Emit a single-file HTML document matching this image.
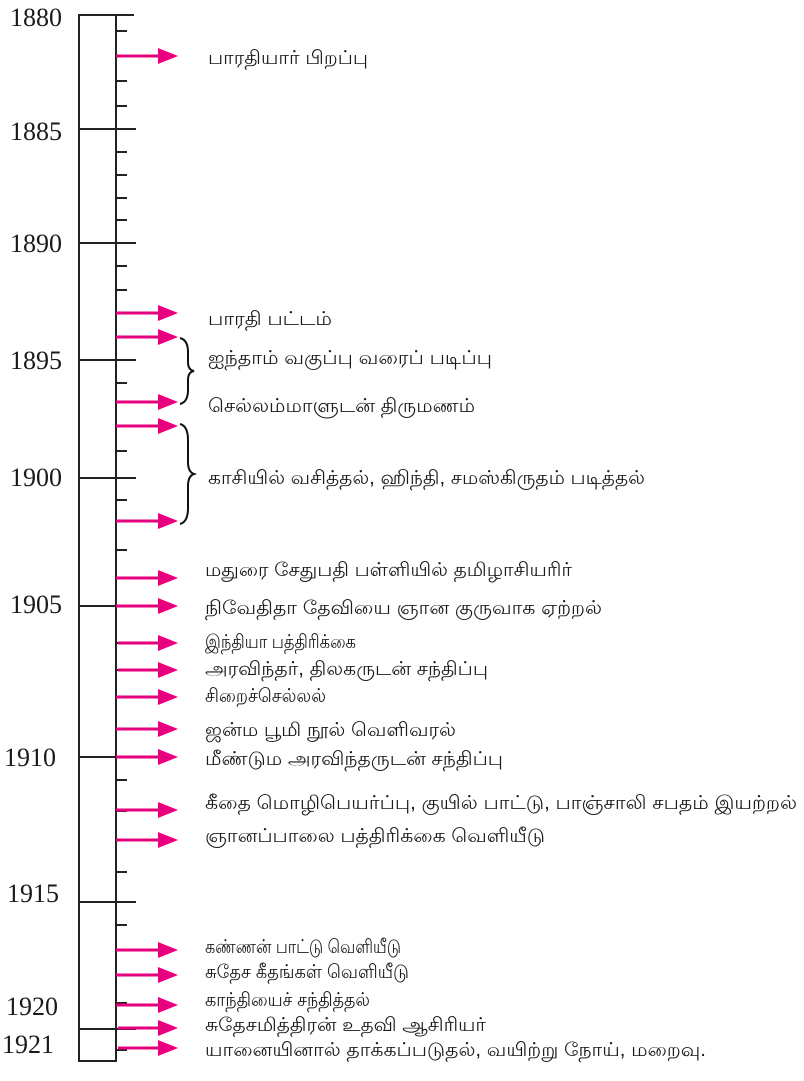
<!DOCTYPE html>
<html><head><meta charset="utf-8"><style>
html,body{margin:0;padding:0;background:#fff;}
svg{display:block;}
.y{font-family:"Liberation Serif",serif;font-size:26px;fill:#1a1a1a;}
.t{font-family:"Liberation Sans",sans-serif;font-size:19px;fill:#1a1a1a;}
</style></head><body>
<svg width="804" height="1081" viewBox="0 0 804 1081" xmlns="http://www.w3.org/2000/svg">
<g stroke="#222" stroke-width="2" fill="none">
<rect x="79" y="15" width="37" height="1046"/>
<line x1="113" y1="15" x2="134" y2="15"/>
<line x1="79" y1="129" x2="136" y2="129"/>
<line x1="79" y1="243" x2="136" y2="243"/>
<line x1="79" y1="360" x2="136" y2="360"/>
<line x1="79" y1="478" x2="136" y2="478"/>
<line x1="79" y1="606" x2="136" y2="606"/>
<line x1="79" y1="757" x2="136" y2="757"/>
<line x1="79" y1="902" x2="136" y2="902"/>
<line x1="79" y1="1029" x2="136" y2="1029"/>
<path d="M116 31h11M116 56h11M116 81h11M116 106h11
M116 152h11M116 175h11M116 198h11M116 220h11
M116 266h11M116 290h11M116 313h11M116 337h11
M116 383h11M116 402h11M116 426h11M116 451h11
M116 500h11M116 521h11M116 550h11M116 578h11
M116 643h11M116 670h11M116 697h11M116 729h11
M116 780h11M116 811h11M116 840h11M116 872h11
M116 925h11M116 950h11M116 975h11M116 1003h11M116 1050h11"/>
</g>
<g class="y" text-anchor="end">
<text x="62" y="26">1880</text>
<text x="62" y="140">1885</text>
<text x="62" y="252">1890</text>
<text x="62" y="369">1895</text>
<text x="62" y="486">1900</text>
<text x="62" y="613">1905</text>
<text x="56" y="766">1910</text>
<text x="59" y="902">1915</text>
<text x="58" y="1015">1920</text>
<text x="54" y="1053">1921</text>
</g>
<g fill="#e6007e" stroke="#e6007e">
<g stroke-width="3">
<line x1="116" y1="56" x2="160" y2="56"/>
<line x1="116" y1="313" x2="160" y2="313"/>
<line x1="116" y1="337" x2="160" y2="337"/>
<line x1="116" y1="402" x2="160" y2="402"/>
<line x1="116" y1="426" x2="160" y2="426"/>
<line x1="116" y1="521" x2="160" y2="521"/>
<line x1="116" y1="578" x2="160" y2="578"/>
<line x1="116" y1="606" x2="160" y2="606"/>
<line x1="118" y1="643" x2="160" y2="643"/>
<line x1="118" y1="670" x2="160" y2="670"/>
<line x1="116" y1="697" x2="160" y2="697"/>
<line x1="116" y1="729" x2="160" y2="729"/>
<line x1="116" y1="757" x2="160" y2="757"/>
<line x1="116" y1="810" x2="160" y2="810"/>
<line x1="116" y1="840" x2="160" y2="840"/>
<line x1="116" y1="950" x2="160" y2="950"/>
<line x1="116" y1="975" x2="160" y2="975"/>
<line x1="116" y1="1005" x2="160" y2="1005"/>
<line x1="118" y1="1028" x2="160" y2="1028"/>
<line x1="118" y1="1048" x2="160" y2="1048"/>
</g>
<g stroke="none">
<path d="M158 48L178 56L158 64Z"/>
<path d="M158 305L178 313L158 321Z"/>
<path d="M158 329L178 337L158 345Z"/>
<path d="M158 394L178 402L158 410Z"/>
<path d="M158 418L178 426L158 434Z"/>
<path d="M158 513L178 521L158 529Z"/>
<path d="M158 570L178 578L158 586Z"/>
<path d="M158 598L178 606L158 614Z"/>
<path d="M158 635L178 643L158 651Z"/>
<path d="M158 662L178 670L158 678Z"/>
<path d="M158 689L178 697L158 705Z"/>
<path d="M158 721L178 729L158 737Z"/>
<path d="M158 749L178 757L158 765Z"/>
<path d="M158 802L178 810L158 818Z"/>
<path d="M158 832L178 840L158 848Z"/>
<path d="M158 942L178 950L158 958Z"/>
<path d="M158 967L178 975L158 983Z"/>
<path d="M158 997L178 1005L158 1013Z"/>
<path d="M158 1020L178 1028L158 1036Z"/>
<path d="M158 1040L178 1048L158 1056Z"/>
</g>
</g>
<g stroke="#111" stroke-width="2" fill="none">
<path d="M180 338 Q188 340 188 352 L188 362 Q188 370 194 371 Q188 372 188 380 L188 390 Q188 402 180 404"/>
<path d="M180 424 Q188 426 188 440 L188 462 Q188 472 194 474 Q188 476 188 486 L188 508 Q188 522 180 524"/>
</g>
<g class="t" lengthAdjust="spacingAndGlyphs">
<text x="208" y="64" textLength="160" lengthAdjust="spacingAndGlyphs">பாரதியார் பிறப்பு</text>
<text x="208" y="325" textLength="124" lengthAdjust="spacingAndGlyphs">பாரதி பட்டம்</text>
<text x="208" y="364" textLength="284" lengthAdjust="spacingAndGlyphs">ஐந்தாம் வகுப்பு வரைப் படிப்பு</text>
<text x="208" y="412" textLength="267" lengthAdjust="spacingAndGlyphs">செல்லம்மாளுடன் திருமணம்</text>
<text x="208" y="484" textLength="437" lengthAdjust="spacingAndGlyphs">காசியில் வசித்தல், ஹிந்தி, சமஸ்கிருதம் படித்தல்</text>
<text x="205" y="576" textLength="367" lengthAdjust="spacingAndGlyphs">மதுரை சேதுபதி பள்ளியில் தமிழாசியரிர்</text>
<text x="205" y="614" textLength="397" lengthAdjust="spacingAndGlyphs">நிவேதிதா தேவியை ஞான குருவாக ஏற்றல்</text>
<text x="205" y="648" textLength="151" lengthAdjust="spacingAndGlyphs">இந்தியா பத்திரிக்கை</text>
<text x="205" y="675" textLength="283" lengthAdjust="spacingAndGlyphs">அரவிந்தர், திலகருடன் சந்திப்பு</text>
<text x="205" y="702" textLength="121" lengthAdjust="spacingAndGlyphs">சிறைச்செல்லல்</text>
<text x="205" y="736" textLength="251" lengthAdjust="spacingAndGlyphs">ஜன்ம பூமி நூல் வெளிவரல்</text>
<text x="205" y="765" textLength="298" lengthAdjust="spacingAndGlyphs">மீண்டும அரவிந்தருடன் சந்திப்பு</text>
<text x="205" y="809" textLength="592" lengthAdjust="spacingAndGlyphs">கீதை மொழிபெயர்ப்பு, குயில் பாட்டு, பாஞ்சாலி சபதம் இயற்றல்</text>
<text x="205" y="842" textLength="340" lengthAdjust="spacingAndGlyphs">ஞானப்பாலை பத்திரிக்கை வெளியீடு</text>
<text x="205" y="953" textLength="196" lengthAdjust="spacingAndGlyphs">கண்ணன் பாட்டு வெளியீடு</text>
<text x="205" y="978" textLength="204" lengthAdjust="spacingAndGlyphs">சுதேச கீதங்கள் வெளியீடு</text>
<text x="205" y="1006" textLength="165" lengthAdjust="spacingAndGlyphs">காந்தியைச் சந்தித்தல்</text>
<text x="205" y="1031" textLength="281" lengthAdjust="spacingAndGlyphs">சுதேசமித்திரன் உதவி ஆசிரியர்</text>
<text x="205" y="1056" textLength="501" lengthAdjust="spacingAndGlyphs">யானையினால் தாக்கப்படுதல், வயிற்று நோய், மறைவு.</text>
</g>
</svg>
</body></html>
